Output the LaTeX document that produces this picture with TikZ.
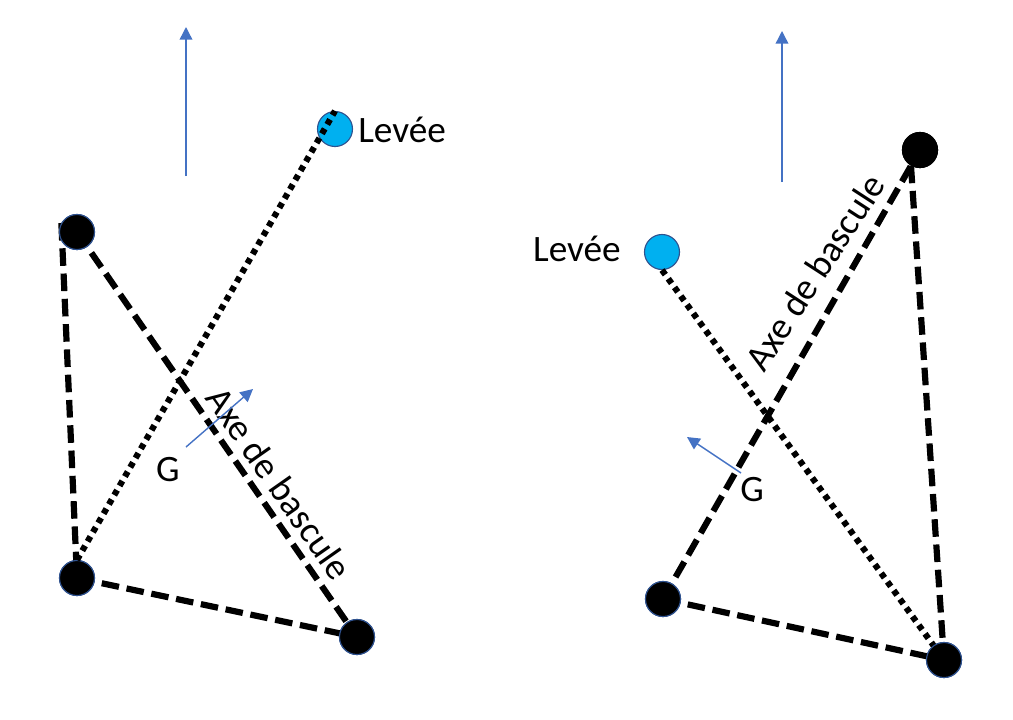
\documentclass[tikz,border=0pt]{standalone}
\usepackage{fontspec}
\setmainfont{Carlito}
\usepackage{tikz}
\usetikzlibrary{arrows.meta}
\definecolor{pptblue}{HTML}{4472C4}
\definecolor{pptline}{HTML}{2F528F}
\definecolor{pptcyan}{HTML}{00B0F0}

\begin{document}
\begin{tikzpicture}[x=0.025cm, y=-0.025cm,
        every node/.append style={font=\fontsize{26.5}{30}\selectfont},
        pivot/.style={circle, fill=black, draw=pptline, line width=0.8pt, minimum size=0.875cm, inner sep=0pt},
        lift/.style={pivot, fill=pptcyan},
        axis/.style={line width=4.4pt, dash pattern=on 12.5pt off 5.5pt},
        liftline/.style={line width=4.4pt, dash pattern=on 4pt off 3.6pt},
        force/.style={pptblue, line width=1pt, -{Triangle[length=9pt, width=9pt]}}]
      \tikzstyle{word} = [inner sep=0pt, color=black]
      \useasboundingbox (0,0) rectangle (1013,719);
      % left
      \node (topL) [pivot] at (77,232) {};
      \node (botL) [pivot] at (77,578) {};
      \node (rightL) [pivot] at (357,637) {};
      \node (leveeL) [lift] at (335,129) {};
      \draw[axis] (topL.150) -- (botL.center);
      \draw[axis] (topL.center) -- (rightL.center);
      \draw[axis] (botL.center) -- (rightL.center);
      \node [pivot] at (topL) {};
      \node [pivot] at (botL) {};
      \node [pivot] at (rightL) {};
      \draw[liftline] (botL.north) -- (leveeL.north);
      \node [word, anchor=west] at (358,130) {Levée};
      \node [word, rotate=-55] at (279,483) {Axe de bascule};
      \node (gL) [word] at (168,470) {G};
      \coordinate (upL0) at (186,176);
      \coordinate (upL1) at (186,27);
      \draw[force] (upL0) -- (upL1);
      \coordinate (gL0) at (186,447);
      \coordinate (gL1) at (253,389);
      \draw[force] (gL0) -- (gL1);
      % right
      \node (topR) [pivot, draw=black] at (920,150) {};
      \node (botR) [pivot] at (663,599) {};
      \node (rightR) [pivot] at (944,660) {};
      \node (leveeR) [lift] at (662,252) {};
      \draw[axis] (botR.center) -- (topR.center);
      \draw[axis] (topR.240) -- (rightR.center);
      \draw[axis] (botR.center) -- (rightR.center);
      \draw[liftline] (leveeR.south) -- (rightR.center);
      \node [pivot, draw=black] at (topR) {};
      \node [pivot] at (botR) {};
      \node [pivot] at (rightR) {};
      \node [word, anchor=east] at (621,249) {Levée};
      \node [word, rotate=57] at (815,272) {Axe de bascule};
      \node (gR) [word] at (752,490) {G};
      \coordinate (upR0) at (782,182);
      \coordinate (upR1) at (782,31);
      \draw[force] (upR0) -- (upR1);
      \coordinate (gR0) at (741,473);
      \coordinate (gR1) at (687,437);
      \draw[force] (gR0) -- (gR1);
\end{tikzpicture}
\end{document}
